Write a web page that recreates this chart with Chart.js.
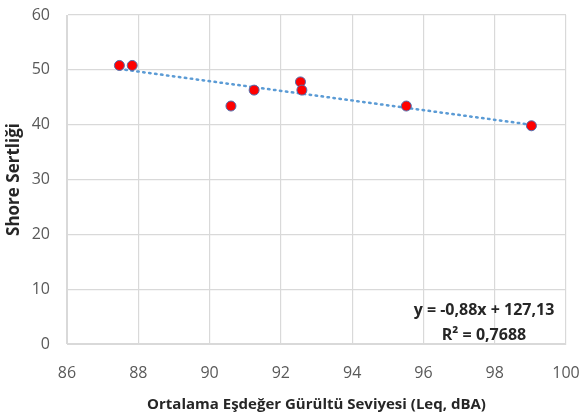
<!DOCTYPE html>
<html>
<head>
<meta charset="utf-8">
<script src="https://cdn.jsdelivr.net/npm/chart.js@4"></script>
<style>
  html, body { margin: 0; padding: 0; background: #fff; }
  #wrap { width: 582px; height: 418px; }
</style>
</head>
<body>
<div id="wrap"><canvas id="grafik" width="582" height="418"></canvas></div>
<script>
// veri
const leqDegerleri = [87.47, 87.83, 90.6, 91.25, 92.55, 92.59, 95.52, 99.03];
const shoreDegerleri = [50.8, 50.8, 43.4, 46.3, 47.8, 46.3, 43.4, 39.8];
const trendEgim = -0.88;
const trendKesim = 127.13;
const denklemSatirlari = ['y = -0,88x + 127,13', 'R² = 0,7688'];
const xBaslik = 'Ortalama Eşdeğer Gürültü Seviyesi (Leq, dBA)';
const yBaslik = 'Shore Sertliği';

const xMin = Math.min(...leqDegerleri);
const xMax = Math.max(...leqDegerleri);
const trendNoktalari = [
    { x: xMin, y: trendEgim * xMin + trendKesim },
    { x: xMax, y: trendEgim * xMax + trendKesim }
];

const fontAdi = "'Open Sans', 'Liberation Sans', sans-serif";

const denklemYazisi = {
    id: 'denklemYazisi',
    afterDraw: (chart) => {
        const { ctx, chartArea } = chart;
        ctx.save();
        ctx.fillStyle = '#262626';
        ctx.font = 'bold 16px ' + fontAdi;
        ctx.textAlign = 'center';
        ctx.textBaseline = 'middle';
        const cx = chartArea.right - 82;
        ctx.fillText(denklemSatirlari[0], cx, chartArea.bottom - 34);
        ctx.fillText(denklemSatirlari[1], cx, chartArea.bottom - 9);
        ctx.restore();
    }
};

new Chart(document.getElementById('grafik').getContext('2d'), {
    type: 'scatter',
    data: {
        datasets: [
            {
                label: 'Ölçüm',
                data: leqDegerleri.map((x, i) => ({ x: x, y: shoreDegerleri[i] })),
                backgroundColor: '#ff0000',
                borderColor: '#4f6fb0',
                borderWidth: 1,
                pointRadius: 5,
                order: 1
            },
            {
                label: 'Trend',
                type: 'line',
                data: trendNoktalari,
                borderColor: '#5b9bd5',
                borderWidth: 2.5,
                borderDash: [1.5, 4.5],
                borderCapStyle: 'round',
                pointRadius: 0,
                fill: false,
                order: 2
            }
        ]
    },
    options: {
        responsive: false,
        animation: false,
        layout: { padding: { top: 15, right: 16, left: 0, bottom: 0 } },
        plugins: {
            legend: { display: false },
            tooltip: { enabled: false }
        },
        scales: {
            x: {
                type: 'linear',
                min: 86,
                max: 100,
                ticks: { stepSize: 2, color: '#595959', font: { family: fontAdi, size: 16 }, padding: 20 },
                grid: { color: '#d9d9d9', lineWidth: 1.2, drawTicks: false },
                border: { color: '#d9d9d9' },
                title: {
                    display: true,
                    text: xBaslik,
                    color: '#262626',
                    font: { family: fontAdi, size: 15, weight: 'bold' },
                    padding: { top: 4 }
                },
                afterFit: (s) => {
                    s.height = 74;
                    s.paddingLeft = 0;
                    s.paddingRight = 0;
                }
            },
            y: {
                min: 0,
                max: 60,
                ticks: { stepSize: 10, color: '#595959', font: { family: fontAdi, size: 16 }, padding: 17 },
                grid: { color: '#d9d9d9', lineWidth: 1.2, drawTicks: false },
                border: { color: '#d9d9d9' },
                title: {
                    display: true,
                    text: yBaslik,
                    color: '#262626',
                    font: { family: fontAdi, size: 17, weight: 'bold' },
                    padding: { bottom: 0 }
                },
                afterFit: (s) => {
                    s.width = 67;
                    s.paddingTop = 0;
                    s.paddingBottom = 0;
                }
            }
        }
    },
    plugins: [denklemYazisi]
});
</script>
</body>
</html>
